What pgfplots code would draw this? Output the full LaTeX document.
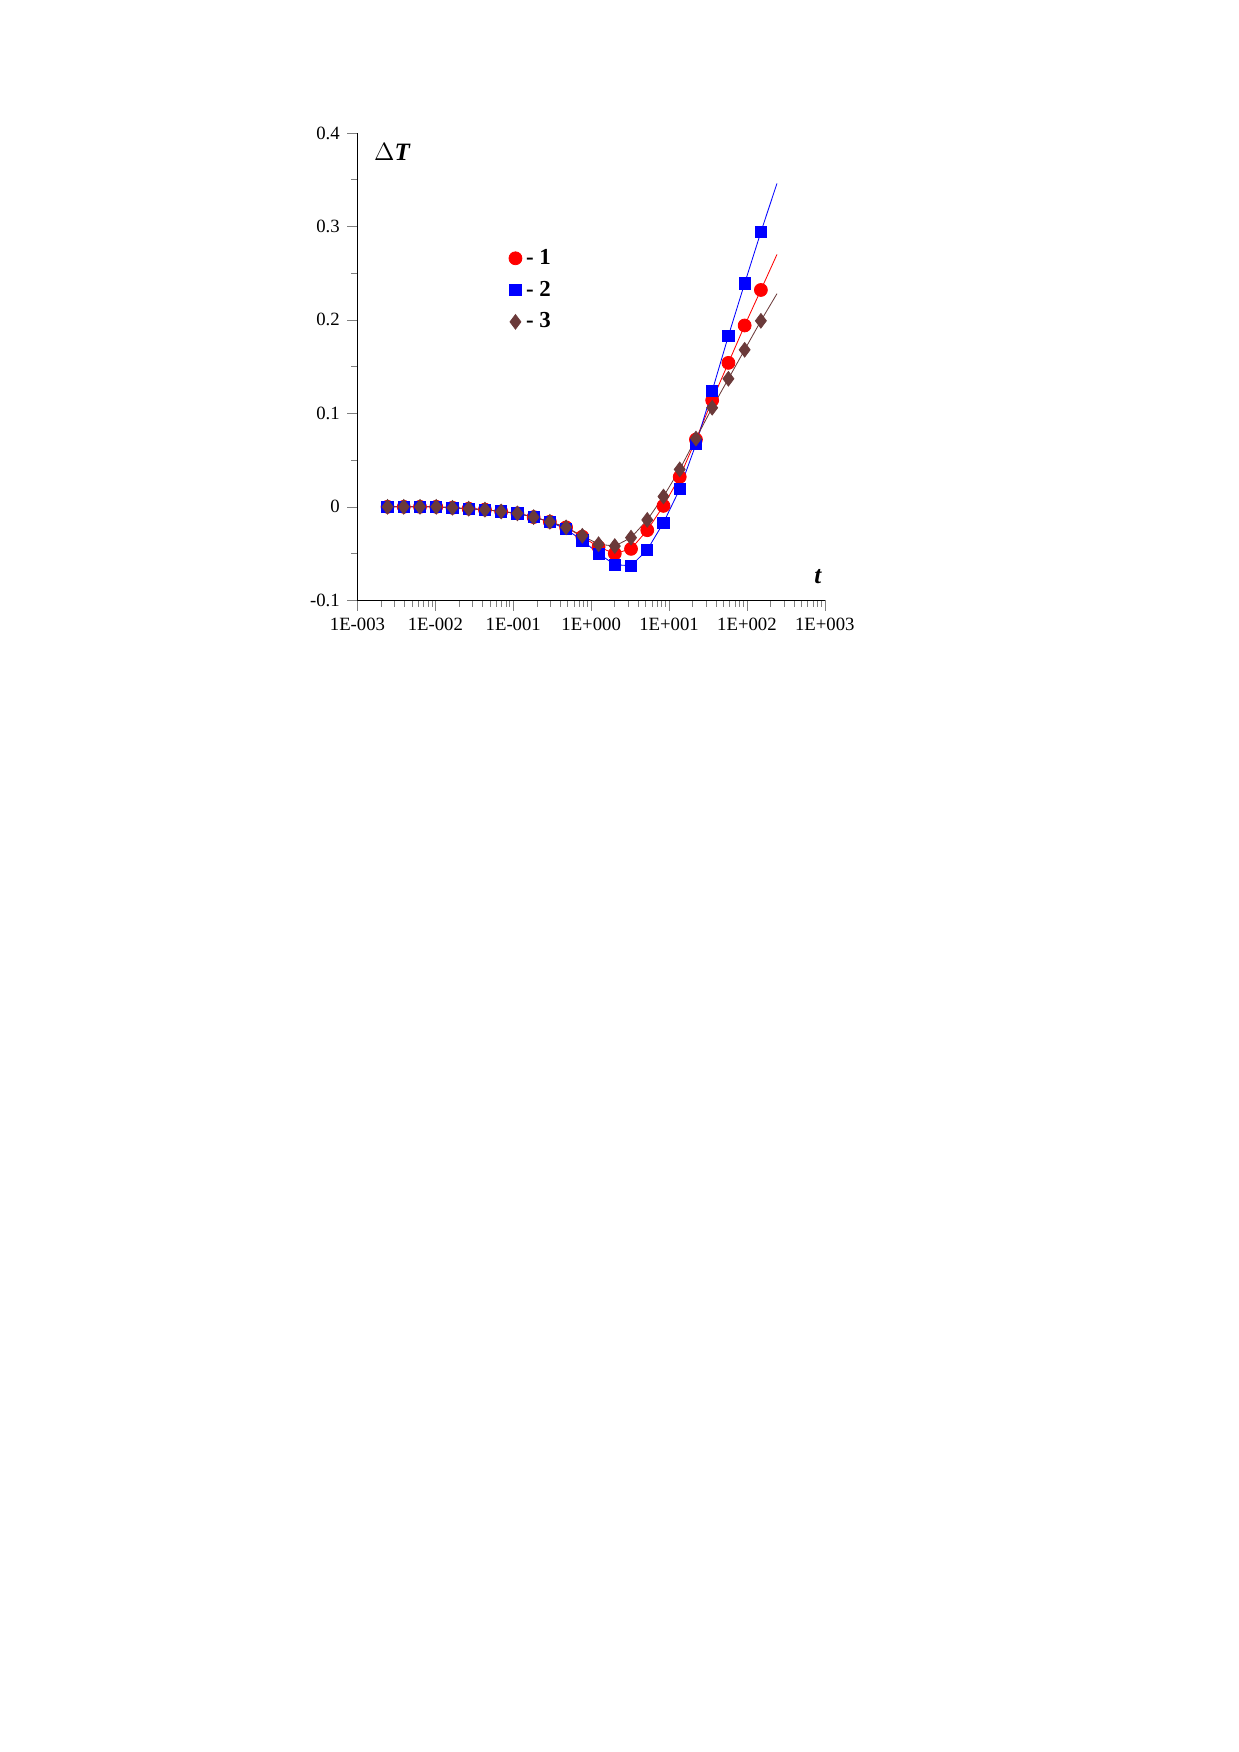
\documentclass[border=0pt]{standalone}
\usepackage{pgfplots}
\pgfplotsset{compat=1.18}
\usepackage{fontspec}
\setmainfont{Liberation Serif}
\definecolor{br}{HTML}{6B3A3A}
\begin{document}
\begin{tikzpicture}
\path (0,0) rectangle (595pt,842pt);
\begin{axis}[scale only axis, width=224.6pt, height=224.6pt,
 at={(171.8pt,553.5pt)}, anchor=south west,
 xmode=log, xmin=1e-3, xmax=1e3, ymin=-0.1, ymax=0.4,
 axis lines=left, axis line style={-}, tick align=outside,
 xtick={1e-3,1e-2,1e-1,1,1e1,1e2,1e3},
 xticklabels={1E-003,1E-002,1E-001,1E+000,1E+001,1E+002,1E+003},
 ytick={-0.1,0,0.1,0.2,0.3,0.4}, yticklabels={-0.1,0,0.1,0.2,0.3,0.4},
 minor ytick={-0.05,0.05,0.15,0.25,0.35},
 tick label style={font=\fontsize{9}{10}\selectfont},
 major tick length=5pt, minor tick length=3pt,
 legend style={at={(0.31,0.77)}, anchor=north west, draw=none, fill=none, font=\bfseries\fontsize{11}{13}\selectfont, row sep=2.5pt},
 legend cell align=left, clip=false]
\pgfplotstableread{
x r b m
0.00243 0 0 0
0.00393 0 0 0
0.00635 0 0 0
0.01026 0 0 0
0.01658 -0.001 -0.001 -0.001
0.02679 -0.002 -0.002 -0.002
0.04329 -0.003 -0.003 -0.003
0.06995 -0.005 -0.005 -0.005
0.11303 -0.007 -0.007 -0.007
0.18264 -0.011 -0.011 -0.011
0.29512 -0.016 -0.016 -0.016
0.47686 -0.022 -0.024 -0.022
0.77051 -0.032 -0.036 -0.031
1.2450 -0.043 -0.050 -0.040
2.0117 -0.050 -0.062 -0.042
3.2506 -0.045 -0.063 -0.033
5.2524 -0.025 -0.046 -0.014
8.4869 0.001 -0.017 0.011
13.713 0.032 0.019 0.040
22.158 0.072 0.067 0.073
35.803 0.114 0.124 0.106
57.852 0.154 0.183 0.137
93.477 0.194 0.239 0.168
151.04 0.232 0.294 0.199
}\data
\addplot[only marks, mark=*, mark size=3.1pt, color=red] table[y=r]{\data};
\addlegendentry{- 1}
\addplot[only marks, mark=square*, mark size=2.7pt, color=blue] table[y=b]{\data};
\addlegendentry{- 2}
\addplot[only marks, mark=diamond*, mark size=3.5pt, color=br] table[y=m]{\data};
\addlegendentry{- 3}
\addplot[red, thin, forget plot] table[y=r]{\data};
\addplot[blue, thin, forget plot] table[y=b]{\data};
\addplot[blue, thin, forget plot] coordinates {(151.04,0.294) (243,0.346)};
\addplot[red, thin, forget plot] coordinates {(151.04,0.232) (243,0.27)};
\addplot[br, thin, forget plot] table[y=m]{\data};
\addplot[br, thin, forget plot] coordinates {(151.04,0.199) (243,0.228)};
\node[anchor=west, font=\fontsize{12}{14}\selectfont] at (rel axis cs:0.02,0.96) {$\Delta$\textbf{\textit{T}}};
\node[font=\bfseries\itshape\fontsize{12}{14}\selectfont] at (rel axis cs:0.985,0.05) {t};
\end{axis}
\end{tikzpicture}
\end{document}
